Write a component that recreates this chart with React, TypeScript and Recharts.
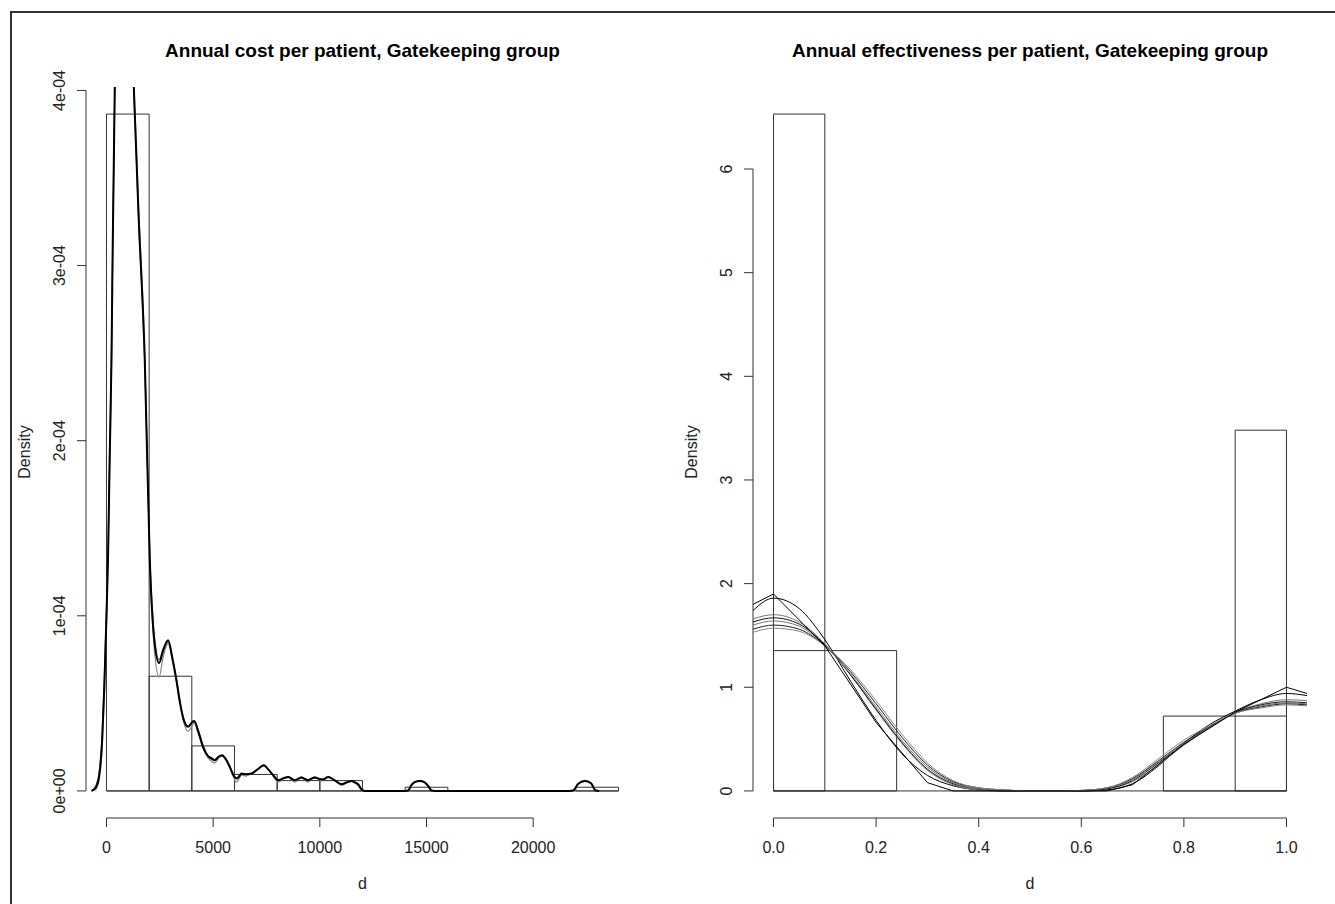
import React from 'react';
import { ComposedChart, Line, XAxis, YAxis, ReferenceArea, ReferenceLine } from 'recharts';

// ---------- Left panel: annual cost ----------
const costBreaks = [0, 2000, 4000, 6000, 8000, 10000, 12000, 14000, 16000, 18000, 20000, 22000, 24000];
const costDensity = [3.865e-4, 6.55e-5, 2.57e-5, 9.4e-6, 5.9e-6, 5.9e-6, 0, 2.1e-6, 0, 0, 0, 2.1e-6];
const costXTicks = [0, 5000, 10000, 15000, 20000];
const costXTickLabels = ['0', '5000', '10000', '15000', '20000'];
const costYTicks = [0, 0.0001, 0.0002, 0.0003, 0.0004];
const costYTickLabels = ['0e+00', '1e-04', '2e-04', '3e-04', '4e-04'];

// density curves, x in cost units, y in units of 1e-4
const costCurveX = [-700, -500, -350, -200, -100, 0, 75, 150, 234, 281, 389, 550, 800, 1050, 1280, 1500, 1795, 2030, 2250, 2467, 2650, 2889, 3100, 3281, 3450, 3625, 3828, 4000, 4109, 4300, 4531, 4750, 4922, 5078, 5250, 5421, 5600, 5781, 5950, 6093, 6200, 6328, 6550, 6797, 7100, 7374, 7600, 7812, 8047, 8300, 8516, 8700, 8828, 9000, 9140, 9300, 9453, 9600, 9765, 9950, 10156, 10300, 10390, 10700, 11016, 11250, 11484, 11650, 11797, 11950, 12100, 14000, 14140, 14300, 14500, 14687, 14900, 15100, 15234, 15400, 21700, 21875, 22100, 22421, 22700, 22937, 23100];
const costCurveMain = [0, 0.02, 0.08, 0.3, 0.6, 1.0, 1.35, 1.9, 2.46, 2.99, 4.02, 4.55, 4.8, 4.6, 4.02, 3.3, 2.46, 1.32, 0.85, 0.73, 0.8, 0.86, 0.75, 0.63, 0.5, 0.404, 0.366, 0.39, 0.4, 0.34, 0.25, 0.2, 0.185, 0.175, 0.195, 0.204, 0.18, 0.137, 0.09, 0.071, 0.08, 0.099, 0.095, 0.099, 0.125, 0.147, 0.12, 0.09, 0.061, 0.072, 0.08, 0.068, 0.061, 0.07, 0.076, 0.068, 0.061, 0.07, 0.076, 0.07, 0.065, 0.075, 0.08, 0.06, 0.038, 0.048, 0.057, 0.048, 0.038, 0.01, 0, 0, 0.002, 0.035, 0.053, 0.057, 0.05, 0.025, 0.002, 0, 0, 0.002, 0.04, 0.057, 0.045, 0.002, 0];
const costCurveGrayA = [0, 0.01, 0.06, 0.25, 0.55, 0.95, 1.3, 1.85, 2.42, 2.95, 3.98, 4.5, 4.75, 4.6, 4.05, 3.35, 2.5, 1.3, 0.8, 0.65, 0.76, 0.84, 0.74, 0.62, 0.5, 0.39, 0.34, 0.37, 0.39, 0.33, 0.24, 0.19, 0.17, 0.16, 0.185, 0.2, 0.175, 0.13, 0.08, 0.05, 0.065, 0.09, 0.085, 0.1, 0.125, 0.15, 0.12, 0.085, 0.05, 0.07, 0.082, 0.06, 0.05, 0.068, 0.08, 0.062, 0.05, 0.068, 0.08, 0.065, 0.058, 0.074, 0.082, 0.058, 0.032, 0.047, 0.06, 0.045, 0.03, 0.005, 0, 0, 0, 0.03, 0.052, 0.06, 0.05, 0.02, 0, 0, 0, 0, 0.038, 0.06, 0.043, 0, 0];
const costCurveGrayB = [0, 0.03, 0.1, 0.33, 0.65, 1.05, 1.4, 1.95, 2.5, 3.02, 4.05, 4.6, 4.85, 4.62, 4.0, 3.28, 2.44, 1.35, 0.88, 0.75, 0.81, 0.85, 0.76, 0.64, 0.51, 0.41, 0.37, 0.39, 0.4, 0.35, 0.26, 0.2, 0.19, 0.18, 0.195, 0.2, 0.18, 0.14, 0.095, 0.075, 0.082, 0.097, 0.096, 0.1, 0.122, 0.143, 0.12, 0.092, 0.063, 0.072, 0.078, 0.07, 0.063, 0.07, 0.075, 0.07, 0.063, 0.07, 0.075, 0.071, 0.067, 0.074, 0.078, 0.061, 0.04, 0.048, 0.055, 0.05, 0.04, 0.012, 0, 0, 0.003, 0.036, 0.053, 0.056, 0.05, 0.027, 0.003, 0, 0, 0.003, 0.04, 0.056, 0.046, 0.003, 0];

// ---------- Right panel: effectiveness ----------
const effBreaksTall = [0, 0.1, 0.9, 1.0];
const effDensityTall = [6.53, 0, 3.48];
const effBreaksShort = [0, 0.24, 0.76, 1.0];
const effDensityShort = [1.354, 0, 0.722];
const effXTicks = [0, 0.2, 0.4, 0.6, 0.8, 1.0];
const effXTickLabels = ['0.0', '0.2', '0.4', '0.6', '0.8', '1.0'];
const effYTicks = [0, 1, 2, 3, 4, 5, 6];
const effYTickLabels = ['0', '1', '2', '3', '4', '5', '6'];

const effCoarseX = [-0.04, 0, 0.1, 0.2, 0.3, 0.35, 0.65, 0.7, 0.8, 0.9, 1.0, 1.04];
const effCurve1 = [1.8, 1.9, 1.4, 0.66, 0.08, 0, 0, 0.06, 0.45, 0.76, 1.0, 0.94];
const effCurveX = [-0.04, 0, 0.05, 0.1, 0.15, 0.2, 0.25, 0.3, 0.35, 0.4, 0.45, 0.5, 0.55, 0.6, 0.65, 0.7, 0.75, 0.8, 0.85, 0.9, 0.95, 1.0, 1.04];
const effCurve2 = [1.74, 1.86, 1.76, 1.46, 1.06, 0.68, 0.36, 0.15, 0.05, 0.01, 0, 0, 0, 0, 0.01, 0.07, 0.24, 0.46, 0.64, 0.77, 0.88, 0.94, 0.92];
const effCurve3 = [1.66, 1.7, 1.63, 1.42, 1.12, 0.78, 0.46, 0.2, 0.06, 0.01, 0, 0, 0, 0, 0.02, 0.09, 0.25, 0.44, 0.61, 0.76, 0.84, 0.88, 0.87];
const effCurve4 = [1.63, 1.67, 1.61, 1.41, 1.12, 0.79, 0.47, 0.21, 0.07, 0.02, 0, 0, 0, 0, 0.02, 0.1, 0.27, 0.45, 0.62, 0.755, 0.83, 0.86, 0.85];
const effCurve5 = [1.6, 1.64, 1.59, 1.4, 1.13, 0.81, 0.49, 0.23, 0.08, 0.02, 0.005, 0, 0, 0.005, 0.03, 0.11, 0.28, 0.46, 0.62, 0.75, 0.82, 0.85, 0.84];
const effCurve6 = [1.56, 1.6, 1.56, 1.4, 1.15, 0.84, 0.52, 0.25, 0.09, 0.03, 0.01, 0, 0, 0.005, 0.03, 0.12, 0.29, 0.47, 0.62, 0.75, 0.81, 0.84, 0.83];
const effCurve7 = [1.53, 1.57, 1.54, 1.4, 1.17, 0.87, 0.55, 0.27, 0.1, 0.03, 0.01, 0, 0, 0.005, 0.03, 0.13, 0.31, 0.49, 0.63, 0.75, 0.8, 0.83, 0.82];

const FONT = '"Liberation Sans", Arial, sans-serif';
const INK = '#333';

const zip = (xs: number[], ys: number[], k = 1) => xs.map((x, i) => ({ x, y: ys[i] * k }));

const makeXTick = (ticks: number[], labels: string[]) => (props: any) => {
  const { x, y, payload } = props;
  const i = ticks.indexOf(payload.value);
  return (
    <text x={x} y={y} dy="0.71em" textAnchor="middle" fontSize={16} fontFamily={FONT} fill="#222">
      {i >= 0 ? labels[i] : String(payload.value)}
    </text>
  );
};

const makeYTick = (ticks: number[], labels: string[]) => (props: any) => {
  const { x, y, payload } = props;
  const i = ticks.indexOf(payload.value);
  return (
    <text x={x} y={y} transform={`rotate(-90, ${x}, ${y})`} textAnchor="middle" fontSize={16} fontFamily={FONT} fill="#222">
      {i >= 0 ? labels[i] : String(payload.value)}
    </text>
  );
};

function CostPanel() {
  const ymax = costDensity[0];
  const xDom: [number, number] = [costBreaks[0] - 0.04 * 24000, costBreaks[costBreaks.length - 1] + 0.04 * 24000];
  const yDom: [number, number] = [-0.04 * ymax, 1.04 * ymax];
  return (
    <ComposedChart width={670} height={904} margin={{ top: 87, right: 31, bottom: 26, left: 26 }}>
      <XAxis type="number" dataKey="x" domain={xDom} allowDataOverflow ticks={costXTicks} interval={0}
        axisLine={false} tickSize={9} tickMargin={15} tickLine={{ stroke: INK }} height={60}
        tick={makeXTick(costXTicks, costXTickLabels)} />
      <YAxis type="number" dataKey="y" domain={yDom} allowDataOverflow ticks={costYTicks} interval={0}
        axisLine={false} tickSize={9} tickMargin={12} tickLine={{ stroke: INK }} width={60}
        tick={makeYTick(costYTicks, costYTickLabels)} />
      {costDensity.map((d, i) => d > 0 ? (
        <ReferenceArea key={'b' + i} x1={costBreaks[i]} x2={costBreaks[i + 1]} y1={0} y2={d}
          fill="none" stroke={INK} strokeWidth={1} ifOverflow="visible" />
      ) : null)}
      <ReferenceLine segment={[{ x: costBreaks[0], y: 0 }, { x: costBreaks[costBreaks.length - 1], y: 0 }]} stroke={INK} ifOverflow="visible" />
      <ReferenceLine segment={[{ x: costXTicks[0], y: yDom[0] }, { x: costXTicks[costXTicks.length - 1], y: yDom[0] }]} stroke={INK} ifOverflow="visible" />
      <ReferenceLine segment={[{ x: xDom[0], y: costYTicks[0] }, { x: xDom[0], y: costYTicks[costYTicks.length - 1] }]} stroke={INK} ifOverflow="visible" />
      <Line data={zip(costCurveX, costCurveGrayA, 1e-4)} dataKey="y" type="monotone" stroke="#888" strokeWidth={1.2} dot={false} activeDot={false} isAnimationActive={false} />
      <Line data={zip(costCurveX, costCurveGrayB, 1e-4)} dataKey="y" type="monotone" stroke="#666" strokeWidth={1.2} dot={false} activeDot={false} isAnimationActive={false} />
      <Line data={zip(costCurveX, costCurveMain, 1e-4)} dataKey="y" type="monotone" stroke="#000" strokeWidth={2} dot={false} activeDot={false} isAnimationActive={false} />
    </ComposedChart>
  );
}

function EffPanel() {
  const ymax = effDensityTall[0];
  const xDom: [number, number] = [-0.04, 1.04];
  const yDom: [number, number] = [-0.04 * ymax, 1.04 * ymax];
  const smooth = [effCurve2, effCurve3, effCurve4, effCurve5, effCurve6, effCurve7];
  const colors = ['#000', '#777', '#111', '#777', '#222', '#888'];
  return (
    <ComposedChart width={665} height={904} margin={{ top: 87, right: 28, bottom: 26, left: 23 }}>
      <XAxis type="number" dataKey="x" domain={xDom} allowDataOverflow ticks={effXTicks} interval={0}
        axisLine={false} tickSize={9} tickMargin={15} tickLine={{ stroke: INK }} height={60}
        tick={makeXTick(effXTicks, effXTickLabels)} />
      <YAxis type="number" dataKey="y" domain={yDom} allowDataOverflow ticks={effYTicks} interval={0}
        axisLine={false} tickSize={9} tickMargin={12} tickLine={{ stroke: INK }} width={60}
        tick={makeYTick(effYTicks, effYTickLabels)} />
      {effDensityTall.map((d, i) => d > 0 ? (
        <ReferenceArea key={'t' + i} x1={effBreaksTall[i]} x2={effBreaksTall[i + 1]} y1={0} y2={d}
          fill="none" stroke={INK} strokeWidth={1} ifOverflow="visible" />
      ) : null)}
      {effDensityShort.map((d, i) => d > 0 ? (
        <ReferenceArea key={'s' + i} x1={effBreaksShort[i]} x2={effBreaksShort[i + 1]} y1={0} y2={d}
          fill="none" stroke={INK} strokeWidth={1} ifOverflow="visible" />
      ) : null)}
      <ReferenceLine segment={[{ x: effBreaksTall[0], y: 0 }, { x: effBreaksTall[effBreaksTall.length - 1], y: 0 }]} stroke={INK} ifOverflow="visible" />
      <ReferenceLine segment={[{ x: effXTicks[0], y: yDom[0] }, { x: effXTicks[effXTicks.length - 1], y: yDom[0] }]} stroke={INK} ifOverflow="visible" />
      <ReferenceLine segment={[{ x: xDom[0], y: effYTicks[0] }, { x: xDom[0], y: effYTicks[effYTicks.length - 1] }]} stroke={INK} ifOverflow="visible" />
      {smooth.map((c, i) => (
        <Line key={'c' + i} data={zip(effCurveX, c)} dataKey="y" type="monotone" stroke={colors[i]} strokeWidth={1} dot={false} activeDot={false} isAnimationActive={false} />
      ))}
      <Line data={zip(effCoarseX, effCurve1)} dataKey="y" type="linear" stroke="#000" strokeWidth={1} dot={false} activeDot={false} isAnimationActive={false} />
    </ComposedChart>
  );
}

export default function App() {
  return (
    <div style={{ position: 'absolute', left: 0, top: 0, width: 1335, height: 904, background: '#fff', overflow: 'hidden', fontFamily: FONT }}>
      <div style={{ position: 'absolute', left: 10, top: 11, width: 1325, height: 893, borderLeft: '2px solid #333', borderTop: '2px solid #333', boxSizing: 'border-box' }} />
      <div style={{ position: 'absolute', left: 0, top: 0 }}>
        <CostPanel />
      </div>
      <div style={{ position: 'absolute', left: 670, top: 0 }}>
        <EffPanel />
      </div>
      <svg width={1335} height={904} style={{ position: 'absolute', left: 0, top: 0, pointerEvents: 'none' }}>
        <g fontFamily={FONT}>
          <text x={362.5} y={57} textAnchor="middle" fontSize={19} fontWeight="bold" fill="#000">Annual cost per patient, Gatekeeping group</text>
          <text x={1030} y={57} textAnchor="middle" fontSize={19} fontWeight="bold" fill="#000">Annual effectiveness per patient, Gatekeeping group</text>
          <text x={362.5} y={889} textAnchor="middle" fontSize={16} fill="#222">d</text>
          <text x={1030} y={889} textAnchor="middle" fontSize={16} fill="#222">d</text>
          <text x={30} y={452} transform="rotate(-90, 30, 452)" textAnchor="middle" fontSize={16} fill="#222">Density</text>
          <text x={697} y={452} transform="rotate(-90, 697, 452)" textAnchor="middle" fontSize={16} fill="#222">Density</text>
        </g>
      </svg>
    </div>
  );
}
